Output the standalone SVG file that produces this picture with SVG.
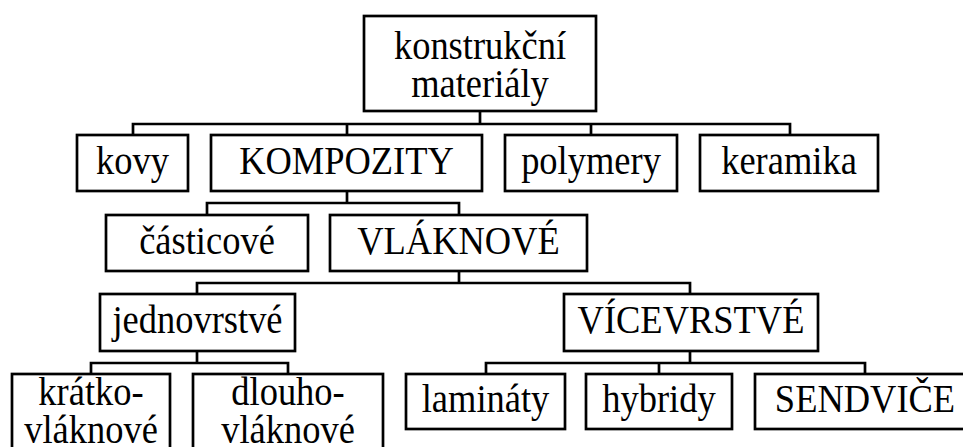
<svg xmlns="http://www.w3.org/2000/svg" width="963" height="447" viewBox="0 0 963 447">
  <style>
    .box { fill: #ffffff; stroke: #000000; stroke-width: 2.7; }
    .lbl { font-size: 39px; fill: #000000; text-anchor: middle; }
    .wire { fill: none; stroke: #000000; stroke-width: 2.7; stroke-linejoin: miter; stroke-linecap: square; }
  </style>
  <rect width="963" height="447" fill="#ffffff"/>

  <!-- tree connectors -->
  <g id="connectors">
    <path class="wire" d="M480 111 V124 M133 135 V124 H790 V135 M347 124 V135 M591 124 V135"/>
    <path class="wire" d="M347 191 V203 M207 215 V203 H459 V215"/>
    <path class="wire" d="M459 271 V283 M197 294 V283 H690 V294"/>
    <path class="wire" d="M197 351 V363 M91 374 V363 H288 V374"/>
    <path class="wire" d="M690 351 V363 M486 374 V363 H865 V374 M659 363 V374"/>
  </g>

  <g id="nodes" font-family="'Liberation Serif', 'Times New Roman', 'DejaVu Serif', serif">
    <g id="konstrukcni-materialy">
      <rect class="box" x="364" y="16" width="232" height="95"/>
      <text class="lbl" transform="translate(480 59) scale(0.935 1)">konstrukční</text>
      <text class="lbl" transform="translate(480 97) scale(0.935 1)">materiály</text>
    </g>

    <g id="kovy">
      <rect class="box" x="77" y="135" width="111" height="56"/>
      <text class="lbl" transform="translate(132.5 174) scale(0.935 1)">kovy</text>
    </g>
    <g id="kompozity">
      <rect class="box" x="211" y="135" width="271" height="56"/>
      <text class="lbl" transform="translate(346.5 174) scale(0.935 1)">KOMPOZITY</text>
    </g>
    <g id="polymery">
      <rect class="box" x="505" y="135" width="172" height="56"/>
      <text class="lbl" transform="translate(591 174) scale(0.935 1)">polymery</text>
    </g>
    <g id="keramika">
      <rect class="box" x="700" y="135" width="178" height="56"/>
      <text class="lbl" transform="translate(789 174) scale(0.935 1)">keramika</text>
    </g>

    <g id="casticove">
      <rect class="box" x="106" y="215" width="202" height="56"/>
      <text class="lbl" transform="translate(207 254) scale(0.935 1)">částicové</text>
    </g>
    <g id="vlaknove">
      <rect class="box" x="330" y="215" width="257" height="56"/>
      <text class="lbl" transform="translate(458.5 254) scale(0.935 1)">VLÁKNOVÉ</text>
    </g>

    <g id="jednovrstve">
      <rect class="box" x="100" y="294" width="195" height="57"/>
      <text class="lbl" transform="translate(197.5 333) scale(0.935 1)">jednovrstvé</text>
    </g>
    <g id="vicevrstve">
      <rect class="box" x="564" y="294" width="254" height="57"/>
      <text class="lbl" transform="translate(691 333) scale(0.935 1)">VÍCEVRSTVÉ</text>
    </g>

    <g id="kratkovlaknove">
      <rect class="box" x="12" y="374" width="158" height="80"/>
      <text class="lbl" transform="translate(91 405) scale(0.935 1)">krátko-</text>
      <text class="lbl" transform="translate(91 443) scale(0.935 1)">vláknové</text>
    </g>
    <g id="dlouhovlaknove">
      <rect class="box" x="193" y="374" width="190" height="80"/>
      <text class="lbl" transform="translate(288 405) scale(0.935 1)">dlouho-</text>
      <text class="lbl" transform="translate(288 443) scale(0.935 1)">vláknové</text>
    </g>
    <g id="laminaty">
      <rect class="box" x="406" y="374" width="159" height="55"/>
      <text class="lbl" transform="translate(485.5 412) scale(0.935 1)">lamináty</text>
    </g>
    <g id="hybridy">
      <rect class="box" x="586" y="374" width="146" height="55"/>
      <text class="lbl" transform="translate(659 412) scale(0.935 1)">hybridy</text>
    </g>
    <g id="sendvice">
      <rect class="box" x="755" y="374" width="220" height="55"/>
      <text class="lbl" transform="translate(865 412) scale(0.935 1)">SENDVIČE</text>
    </g>
  </g>
</svg>
